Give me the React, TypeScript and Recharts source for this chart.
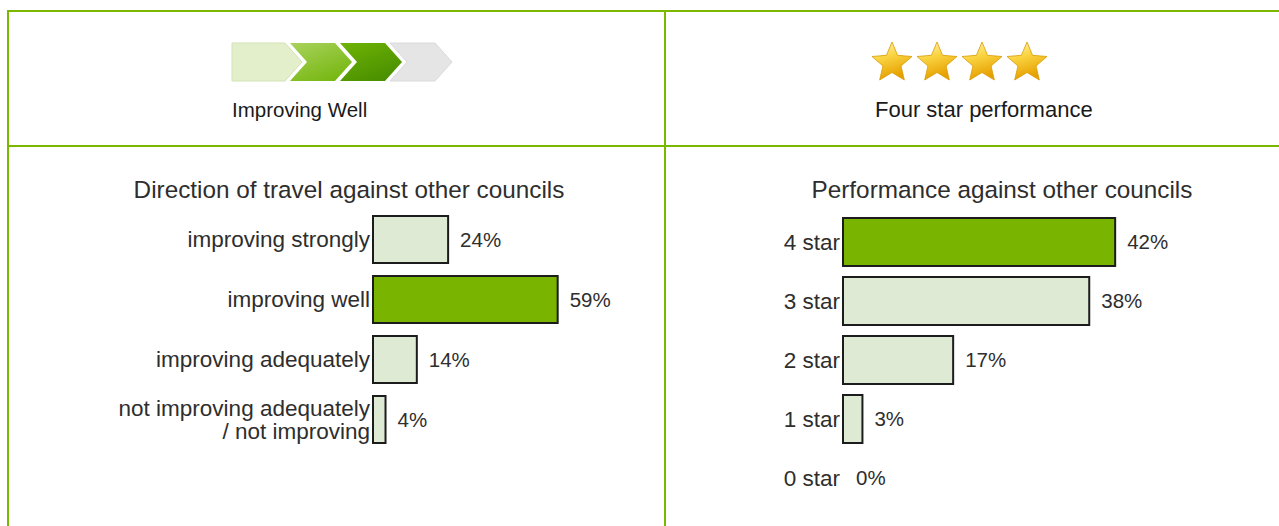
import React from 'react';
import { BarChart, Bar, XAxis, YAxis, Cell, LabelList, Rectangle } from 'recharts';

const FONT = '"Liberation Sans", Arial, sans-serif';
const BORDER = '#7ab800';
const GREEN = '#78b400';
const LIGHT = '#dfead4';
const TEXT = '#2e2e2e';

// Direction of travel
const dirLabelLines: string[][] = [
  ['improving strongly'],
  ['improving well'],
  ['improving adequately'],
  ['not improving adequately', '/ not improving'],
];
const dirCategories = dirLabelLines.map((l) => l.join(' '));
const dirValues = [24, 59, 14, 4];
const dirHighlight = 'improving well';

// Performance
const perfCategories = ['4 star', '3 star', '2 star', '1 star', '0 star'];
const perfValues = [42, 38, 17, 3, 0];
const perfHighlight = '4 star';

const dirData = dirCategories.map((name, i) => ({ name, value: dirValues[i] }));
const perfData = perfCategories.map((name, i) => ({ name, value: perfValues[i] }));

const pct = (v: any) => `${v}%`;

function DirTick(props: any) {
  const { x, y, payload } = props;
  const idx = dirCategories.indexOf(payload.value);
  const lines = dirLabelLines[idx] || [String(payload.value)];
  const lh = 23;
  const start = -((lines.length - 1) * lh) / 2;
  return (
    <text x={x} y={y} textAnchor="end" fill={TEXT} fontSize={22.5} fontFamily={FONT}>
      {lines.map((l, i) => (
        <tspan key={i} x={x} y={y + start + i * lh} dy="0.36em">
          {l}
        </tspan>
      ))}
    </text>
  );
}

function PerfTick(props: any) {
  const { x, y, payload } = props;
  return (
    <text x={x} y={y} dy="0.36em" textAnchor="end" fill={TEXT} fontSize={22.5} fontFamily={FONT}>
      {payload.value}
    </text>
  );
}

function BarShape(props: any) {
  const v = props.payload ? props.payload.value : 0;
  if (!v) return <g />;
  return <Rectangle {...props} />;
}

function starPoints(cx: number, cy: number, R: number, r: number) {
  const pts: string[] = [];
  for (let i = 0; i < 10; i++) {
    const ang = (Math.PI / 5) * i - Math.PI / 2;
    const rad = i % 2 === 0 ? R : r;
    pts.push(`${cx + rad * Math.cos(ang)},${cy + rad * Math.sin(ang)}`);
  }
  return pts.join(' ');
}

function chevron(x0: number, w: number, d: number, h: number, first: boolean) {
  if (first) {
    return `${x0},0 ${x0 + w},0 ${x0 + w + d},${h / 2} ${x0 + w},${h} ${x0},${h}`;
  }
  return `${x0},0 ${x0 + w},0 ${x0 + w + d},${h / 2} ${x0 + w},${h} ${x0},${h} ${x0 + d},${h / 2}`;
}

const starCenters = [892, 937, 982, 1027];

export default function App() {
  return (
    <div style={{ position: 'absolute', left: 0, top: 0, width: 1279, height: 526, background: '#fff', overflow: 'hidden' }}>
      <svg width={1279} height={526} style={{ position: 'absolute', left: 0, top: 0 }}>
        <defs>
          <linearGradient id="chev2" x1="0" y1="0" x2="0.6" y2="1">
            <stop offset="0" stopColor="#a9d25c" />
            <stop offset="1" stopColor="#78b814" />
          </linearGradient>
          <linearGradient id="chev3" x1="0" y1="0" x2="0.6" y2="1">
            <stop offset="0" stopColor="#6fb304" />
            <stop offset="1" stopColor="#4a9000" />
          </linearGradient>
          <linearGradient id="star" x1="0" y1="0" x2="0.3" y2="1">
            <stop offset="0" stopColor="#fff7c0" />
            <stop offset="0.45" stopColor="#fad442" />
            <stop offset="1" stopColor="#e6a000" />
          </linearGradient>
        </defs>
        <rect x={7} y={10} width={1272} height={2} fill={BORDER} />
        <rect x={7} y={10} width={2} height={516} fill={BORDER} />
        <rect x={664} y={10} width={2} height={516} fill={BORDER} />
        <rect x={7} y={145} width={1272} height={2} fill={BORDER} />

        <g transform="translate(232,43)">
          <polygon points={chevron(0, 53, 17, 38, true)} fill="#e3efca" stroke="#d3e3b6" strokeWidth={1} />
          <polygon points={chevron(58, 45, 17, 38, false)} fill="url(#chev2)" />
          <polygon points={chevron(108, 45, 17, 38, false)} fill="url(#chev3)" />
          <polygon points={chevron(158, 45, 17, 38, false)} fill="#e5e5e5" stroke="#dadada" strokeWidth={1} />
        </g>

        {starCenters.map((cx, i) => (
          <polygon key={i} points={starPoints(cx, 63, 21, 9.5)} fill="url(#star)" stroke="#d99a00" strokeWidth={0.8} strokeLinejoin="round" />
        ))}

        <text x={232} y={117} fontSize={20.5} fontFamily={FONT} fill="#1a1a1a">Improving Well</text>
        <text x={875} y={117} fontSize={22} fontFamily={FONT} fill="#1a1a1a">Four star performance</text>

        <text x={349} y={198} textAnchor="middle" fontSize={24.3} fontFamily={FONT} fill={TEXT}>Direction of travel against other councils</text>
        <text x={1002} y={198} textAnchor="middle" fontSize={24.3} fontFamily={FONT} fill={TEXT}>Performance against other councils</text>
      </svg>

      <div style={{ position: 'absolute', left: 100, top: 209 }}>
        <BarChart width={600} height={240} data={dirData} layout="vertical" margin={{ top: 0, right: 14, bottom: 0, left: 0 }}>
          <XAxis type="number" hide domain={[0, 100]} />
          <YAxis type="category" dataKey="name" width={273} axisLine={false} tickLine={false} tickSize={0} tickMargin={3} tick={(p: any) => <DirTick {...p} />} interval={0} />
          <Bar dataKey="value" barSize={47} stroke="#1c1c1c" strokeWidth={2} isAnimationActive={false}>
            {dirData.map((d, i) => (
              <Cell key={i} fill={d.name === dirHighlight ? GREEN : LIGHT} />
            ))}
            <LabelList dataKey="value" position="right" offset={12} formatter={pct} fill={TEXT} fontSize={20.5} fontFamily={FONT} />
          </Bar>
        </BarChart>
      </div>

      <div style={{ position: 'absolute', left: 760, top: 212 }}>
        <BarChart width={500} height={295} data={perfData} layout="vertical" margin={{ top: 0, right: 93, bottom: 0, left: 0 }}>
          <XAxis type="number" hide domain={[0, 50]} />
          <YAxis type="category" dataKey="name" width={83} axisLine={false} tickLine={false} tickSize={0} tickMargin={3} tick={(p: any) => <PerfTick {...p} />} interval={0} />
          <Bar dataKey="value" barSize={48} stroke="#1c1c1c" strokeWidth={2} minPointSize={1} shape={(p: any) => <BarShape {...p} />} isAnimationActive={false}>
            {perfData.map((d, i) => (
              <Cell key={i} fill={d.name === perfHighlight ? GREEN : LIGHT} />
            ))}
            <LabelList dataKey="value" position="right" offset={12} formatter={pct} fill={TEXT} fontSize={20.5} fontFamily={FONT} />
          </Bar>
        </BarChart>
      </div>
    </div>
  );
}
